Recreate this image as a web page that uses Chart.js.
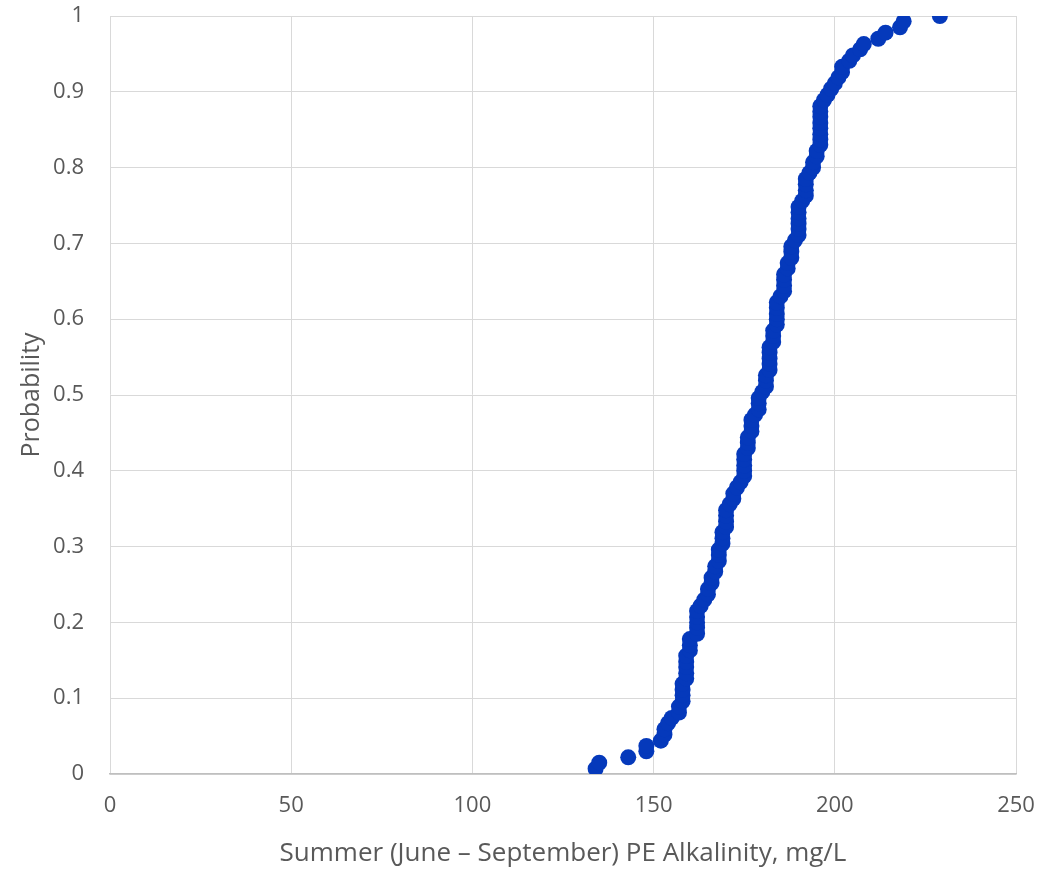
<!DOCTYPE html>
<html>
<head>
<meta charset="utf-8">
<script src="https://cdn.jsdelivr.net/npm/chart.js@4"></script>
<style>
  html, body { margin: 0; padding: 0; background: #ffffff; }
  #wrap { width: 1041px; height: 869px; }
</style>
</head>
<body>
<div id="wrap"><canvas id="c" width="1041" height="869"></canvas></div>
<script>
// Sorted summer PE alkalinity samples (mg/L)
const alkalinity = [
  134, 135, 143, 148, 148, 152, 153, 153, 154, 155,
  157, 157, 158, 158, 158, 158, 159, 159, 159, 159,
  159, 160, 160, 160, 162, 162, 162, 162, 162, 163,
  164, 165, 165, 166, 166, 167, 167, 168, 168, 168,
  169, 169, 169, 170, 170, 170, 170, 171, 172, 172,
  173, 174, 175, 175, 175, 175, 175, 176, 176, 176,
  177, 177, 177, 178, 179, 179, 179, 180, 181, 181,
  181, 182, 182, 182, 182, 182, 183, 183, 183, 184,
  184, 184, 184, 184, 185, 186, 186, 186, 186, 187,
  187, 188, 188, 188, 189, 190, 190, 190, 190, 190,
  190, 191, 192, 192, 192, 192, 193, 194, 194, 195,
  195, 196, 196, 196, 196, 196, 196, 196, 196, 197,
  198, 199, 200, 201, 202, 202, 204, 205, 207, 208,
  212, 214, 218, 219, 229
];

// Cumulative probability for each sorted sample
const probability = [
  0.007, 0.015, 0.022, 0.030, 0.037, 0.044, 0.052, 0.059, 0.067, 0.074,
  0.081, 0.089, 0.096, 0.104, 0.111, 0.119, 0.126, 0.133, 0.141, 0.148,
  0.156, 0.163, 0.170, 0.178, 0.185, 0.193, 0.200, 0.207, 0.215, 0.222,
  0.230, 0.237, 0.244, 0.252, 0.259, 0.267, 0.274, 0.281, 0.289, 0.296,
  0.304, 0.311, 0.319, 0.326, 0.333, 0.341, 0.348, 0.356, 0.363, 0.370,
  0.378, 0.385, 0.393, 0.400, 0.407, 0.415, 0.422, 0.430, 0.437, 0.444,
  0.452, 0.459, 0.467, 0.474, 0.481, 0.489, 0.496, 0.504, 0.511, 0.519,
  0.526, 0.533, 0.541, 0.548, 0.556, 0.563, 0.570, 0.578, 0.585, 0.593,
  0.600, 0.607, 0.615, 0.622, 0.630, 0.637, 0.644, 0.652, 0.659, 0.667,
  0.674, 0.681, 0.689, 0.696, 0.704, 0.711, 0.719, 0.726, 0.733, 0.741,
  0.748, 0.756, 0.763, 0.770, 0.778, 0.785, 0.793, 0.800, 0.807, 0.815,
  0.822, 0.830, 0.837, 0.844, 0.852, 0.859, 0.867, 0.874, 0.881, 0.889,
  0.896, 0.904, 0.911, 0.919, 0.926, 0.933, 0.941, 0.948, 0.956, 0.963,
  0.970, 0.978, 0.985, 0.993, 1.000
];

const xTitle = 'Summer (June \u2013 September) PE Alkalinity, mg/L';
const yTitle = 'Probability';

const points = alkalinity.map((v, i) => ({ x: v, y: probability[i] }));

const FONT = '"Open Sans", "Noto Sans", sans-serif';
const TEXT = '#595959';

new Chart(document.getElementById('c'), {
  type: 'scatter',
  data: {
    datasets: [{
      data: points,
      backgroundColor: '#0539bb',
      borderColor: '#0539bb',
      pointRadius: 8,
      pointHoverRadius: 8,
      borderWidth: 0
    }]
  },
  options: {
    responsive: false,
    animation: false,
    devicePixelRatio: 1,
    layout: { padding: { top: 16, right: 25, bottom: 0, left: 0 } },
    plugins: { legend: { display: false }, tooltip: { enabled: false } },
    scales: {
      x: {
        type: 'linear',
        min: 0, max: 250,
        ticks: { stepSize: 50, color: TEXT, font: { family: FONT, size: 22 }, padding: 19 },
        grid: { color: '#d9d9d9', lineWidth: 1, drawTicks: false },
        border: { color: '#bfbfbf', width: 1.5 },
        title: { display: true, text: xTitle, color: TEXT, font: { family: FONT, size: 26 }, padding: { top: 10, bottom: 0 } },
        afterFit: (s) => { s.height = 95; s.paddingLeft = 0; s.paddingRight = 0; }
      },
      y: {
        type: 'linear',
        min: 0, max: 1,
        ticks: {
          stepSize: 0.1, color: TEXT, font: { family: FONT, size: 22 }, padding: 26,
          callback: (v) => String(Math.round(v * 10) / 10)
        },
        grid: { color: '#d9d9d9', lineWidth: 1, drawTicks: false },
        border: { display: false },
        title: { display: true, text: yTitle, color: TEXT, font: { family: FONT, size: 25 }, padding: { top: 17, bottom: 0 } },
        afterFit: (s) => { s.width = 110; s.paddingTop = 0; s.paddingBottom = 0; }
      }
    }
  }
});
</script>
</body>
</html>
